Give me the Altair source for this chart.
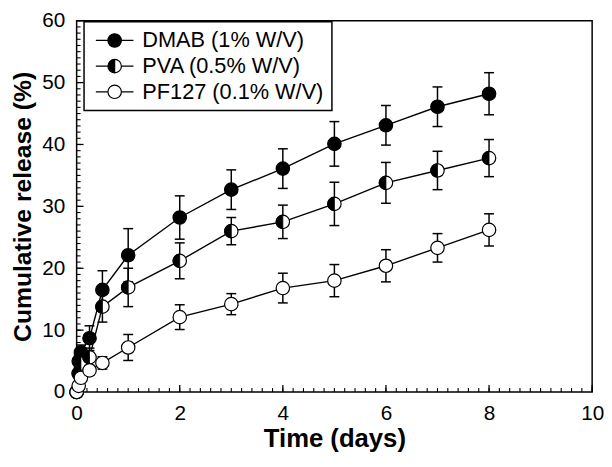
import altair as alt
import pandas as pd

# ---------------- data ----------------
times = [0, 0.04, 0.083, 0.25, 0.5, 1, 2, 3, 4, 5, 6, 7, 8]
series_names = ["DMAB (1% W/V)", "PVA (0.5% W/V)", "PF127 (0.1% W/V)"]

dmab = [0, 5.0, 6.4, 8.7, 16.5, 22.1, 28.2, 32.7, 36.1, 40.1, 43.1, 46.1, 48.2]
dmab_err = [0, 1.0, 1.2, 2.0, 3.1, 4.3, 3.5, 3.2, 3.2, 3.6, 3.2, 3.2, 3.4]

pva = [0, 3.0, 4.6, 5.6, 13.8, 16.9, 21.2, 26.0, 27.5, 30.4, 33.8, 35.8, 37.8]
pva_err = [0, 0.8, 1.0, 1.5, 2.5, 3.1, 2.9, 2.2, 2.7, 3.5, 3.3, 3.1, 3.0]

pf127 = [0, 1.0, 2.3, 3.5, 4.7, 7.2, 12.1, 14.2, 16.8, 18.0, 20.4, 23.3, 26.2]
pf127_err = [0, 0.3, 0.5, 0.8, 1.0, 2.1, 2.0, 1.7, 2.4, 2.6, 2.6, 2.3, 2.6]

x_major = [0, 2, 4, 6, 8, 10]
y_major = [0, 10, 20, 30, 40, 50, 60]
x_minor = [round(0.2 * i, 1) for i in range(51)]
y_minor = list(range(0, 61))

FONT = "Liberation Sans"
W, H = 522, 376

# marker paths (unit circle; custom symbol radius = sqrt(size)/2)
FULL = "M1,0 A1,1 0 1,1 -1,0 A1,1 0 1,1 1,0 Z"
LEFT_HALF = "M0,-1 A1,1 0 0,0 0,1 Z"
STUBS = "M-2.8,0 L-1,0 M1,0 L2.8,0 "
LEG_FULL = STUBS + FULL
LEG_HALF = STUBS + "M0,-1 A1,1 0 0,0 0,1 Z M0,-1 A1,1 0 0,1 0,1 M0,1 A1,1 0 0,0 0,-1"
MSIZE = 185


def make_df(name, vals, errs):
    return pd.DataFrame({
        "series": name,
        "t": times,
        "v": vals,
        "lo": [a - b for a, b in zip(vals, errs)],
        "hi": [a + b for a, b in zip(vals, errs)],
    })


df_dmab = make_df(series_names[0], dmab, dmab_err)
df_pva = make_df(series_names[1], pva, pva_err)
df_pf = make_df(series_names[2], pf127, pf127_err)
df_all = pd.concat([df_dmab, df_pva, df_pf], ignore_index=True)

xs = alt.Scale(domain=[0, 10], nice=False, zero=False)
ys = alt.Scale(domain=[0, 60], nice=False, zero=False)


def X(field="t:Q"):
    return alt.X(field, scale=xs, axis=None)


def Y(field):
    return alt.Y(field, scale=ys, axis=None)


def series_layers(df, kind):
    base = alt.Chart(df)
    eb = base.transform_filter("datum.hi > datum.lo")
    bars = eb.mark_rule(color="black", strokeWidth=1.5).encode(
        x=X(), y=Y("lo:Q"), y2="hi:Q")
    cap_lo = eb.mark_tick(color="black", orient="horizontal", size=10,
                          thickness=1.5, opacity=1).encode(x=X(), y=Y("lo:Q"))
    cap_hi = eb.mark_tick(color="black", orient="horizontal", size=10,
                          thickness=1.5, opacity=1).encode(x=X(), y=Y("hi:Q"))
    line = base.mark_line(color="black", strokeWidth=1.4).encode(
        x=X(), y=Y("v:Q"))
    layers = [bars, cap_lo, cap_hi, line]
    fill = {"full": "black", "half": "white", "open": "white"}[kind]
    pts = base.mark_point(shape=FULL, size=MSIZE, filled=True, fill=fill,
                          stroke="black", strokeWidth=1.2, opacity=1).encode(
        x=X(), y=Y("v:Q"))
    layers.append(pts)
    if kind == "half":
        half = base.mark_point(shape=LEFT_HALF, size=MSIZE, filled=True,
                               fill="black", stroke="black", strokeWidth=0.8,
                               opacity=1).encode(x=X(), y=Y("v:Q"))
        layers.append(half)
    return layers


# axis labels / titles
main_axes = alt.Chart(df_all).mark_point(opacity=0).encode(
    x=alt.X("t:Q", scale=xs, axis=alt.Axis(
        orient="bottom", values=x_major, ticks=False, tickSize=0, domain=False,
        grid=False, labelFont=FONT, labelFontSize=21, labelColor="black",
        labelPadding=11, labelFlush=False, format="d",
        title="Time (days)", titleFont=FONT, titleFontSize=26,
        titleFontWeight="bold", titleColor="black", titlePadding=2)),
    y=alt.Y("v:Q", scale=ys, axis=alt.Axis(
        orient="left", values=y_major, ticks=False, tickSize=0, domain=False,
        grid=False, labelFont=FONT, labelFontSize=21, labelColor="black",
        labelPadding=12, labelFlush=False, format="d",
        title="Cumulative release (%)", titleFont=FONT, titleFontSize=25,
        titleFontWeight="bold", titleColor="black", titlePadding=6)),
)

# inward tick marks, positioned through the scales
df_xminor = pd.DataFrame({"t": x_minor})
df_xmajor = pd.DataFrame({"t": x_major})
df_yminor = pd.DataFrame({"v": y_minor})
df_ymajor = pd.DataFrame({"v": y_major})

xminor_ticks = alt.Chart(df_xminor).mark_rule(color="black", strokeWidth=1.1).encode(
    x=X(), y=alt.value(H), y2=alt.value(H - 4))
xmajor_ticks = alt.Chart(df_xmajor).mark_rule(color="black", strokeWidth=1.3).encode(
    x=X(), y=alt.value(H), y2=alt.value(H - 7))
yminor_ticks = alt.Chart(df_yminor).mark_rule(color="black", strokeWidth=1.1).encode(
    y=Y("v:Q"), x=alt.value(0), x2=alt.value(4))
ymajor_ticks = alt.Chart(df_ymajor).mark_rule(color="black", strokeWidth=1.3).encode(
    y=Y("v:Q"), x=alt.value(0), x2=alt.value(7))

legend_props = dict(
    title=None, orient="none", legendX=7.5, legendY=1, padding=8,
    strokeColor="black", fillColor="white",
    labelFont=FONT, labelFontSize=22, labelColor="black", labelLimit=400,
    symbolSize=MSIZE, symbolStrokeWidth=1.2,
    symbolOffset=12, labelOffset=17, rowPadding=4,
)

legend_layer = alt.Chart(df_all).transform_filter("false").mark_point(
    filled=True, strokeWidth=1.2, opacity=1, size=MSIZE
).encode(
    x=X(), y=Y("v:Q"),
    shape=alt.Shape("series:N", scale=alt.Scale(
        domain=series_names, range=[LEG_FULL, LEG_HALF, LEG_FULL]),
        legend=alt.Legend(**legend_props)),
    fill=alt.Fill("series:N", scale=alt.Scale(
        domain=series_names, range=["black", "black", "white"]),
        legend=alt.Legend(**legend_props)),
    stroke=alt.Stroke("series:N", scale=alt.Scale(
        domain=series_names, range=["black", "black", "black"]),
        legend=alt.Legend(**legend_props)),
)

layers = [main_axes, xminor_ticks, xmajor_ticks, yminor_ticks, ymajor_ticks]
layers += series_layers(df_dmab, "full")
layers += series_layers(df_pva, "half")
layers += series_layers(df_pf, "open")
layers.append(legend_layer)

chart = alt.layer(*layers).resolve_axis(
    x="independent", y="independent"
).properties(
    width=W, height=H,
    autosize=alt.AutoSizeParams(type="none"),
    padding={"left": 69.5, "top": 10, "right": 12, "bottom": 70},
    background="white",
).configure_view(
    stroke="black", strokeWidth=1.5
).configure_legend(
    strokeWidth=1.5
)

chart.save("out.html", embed_options={"renderer": "svg", "actions": False})
